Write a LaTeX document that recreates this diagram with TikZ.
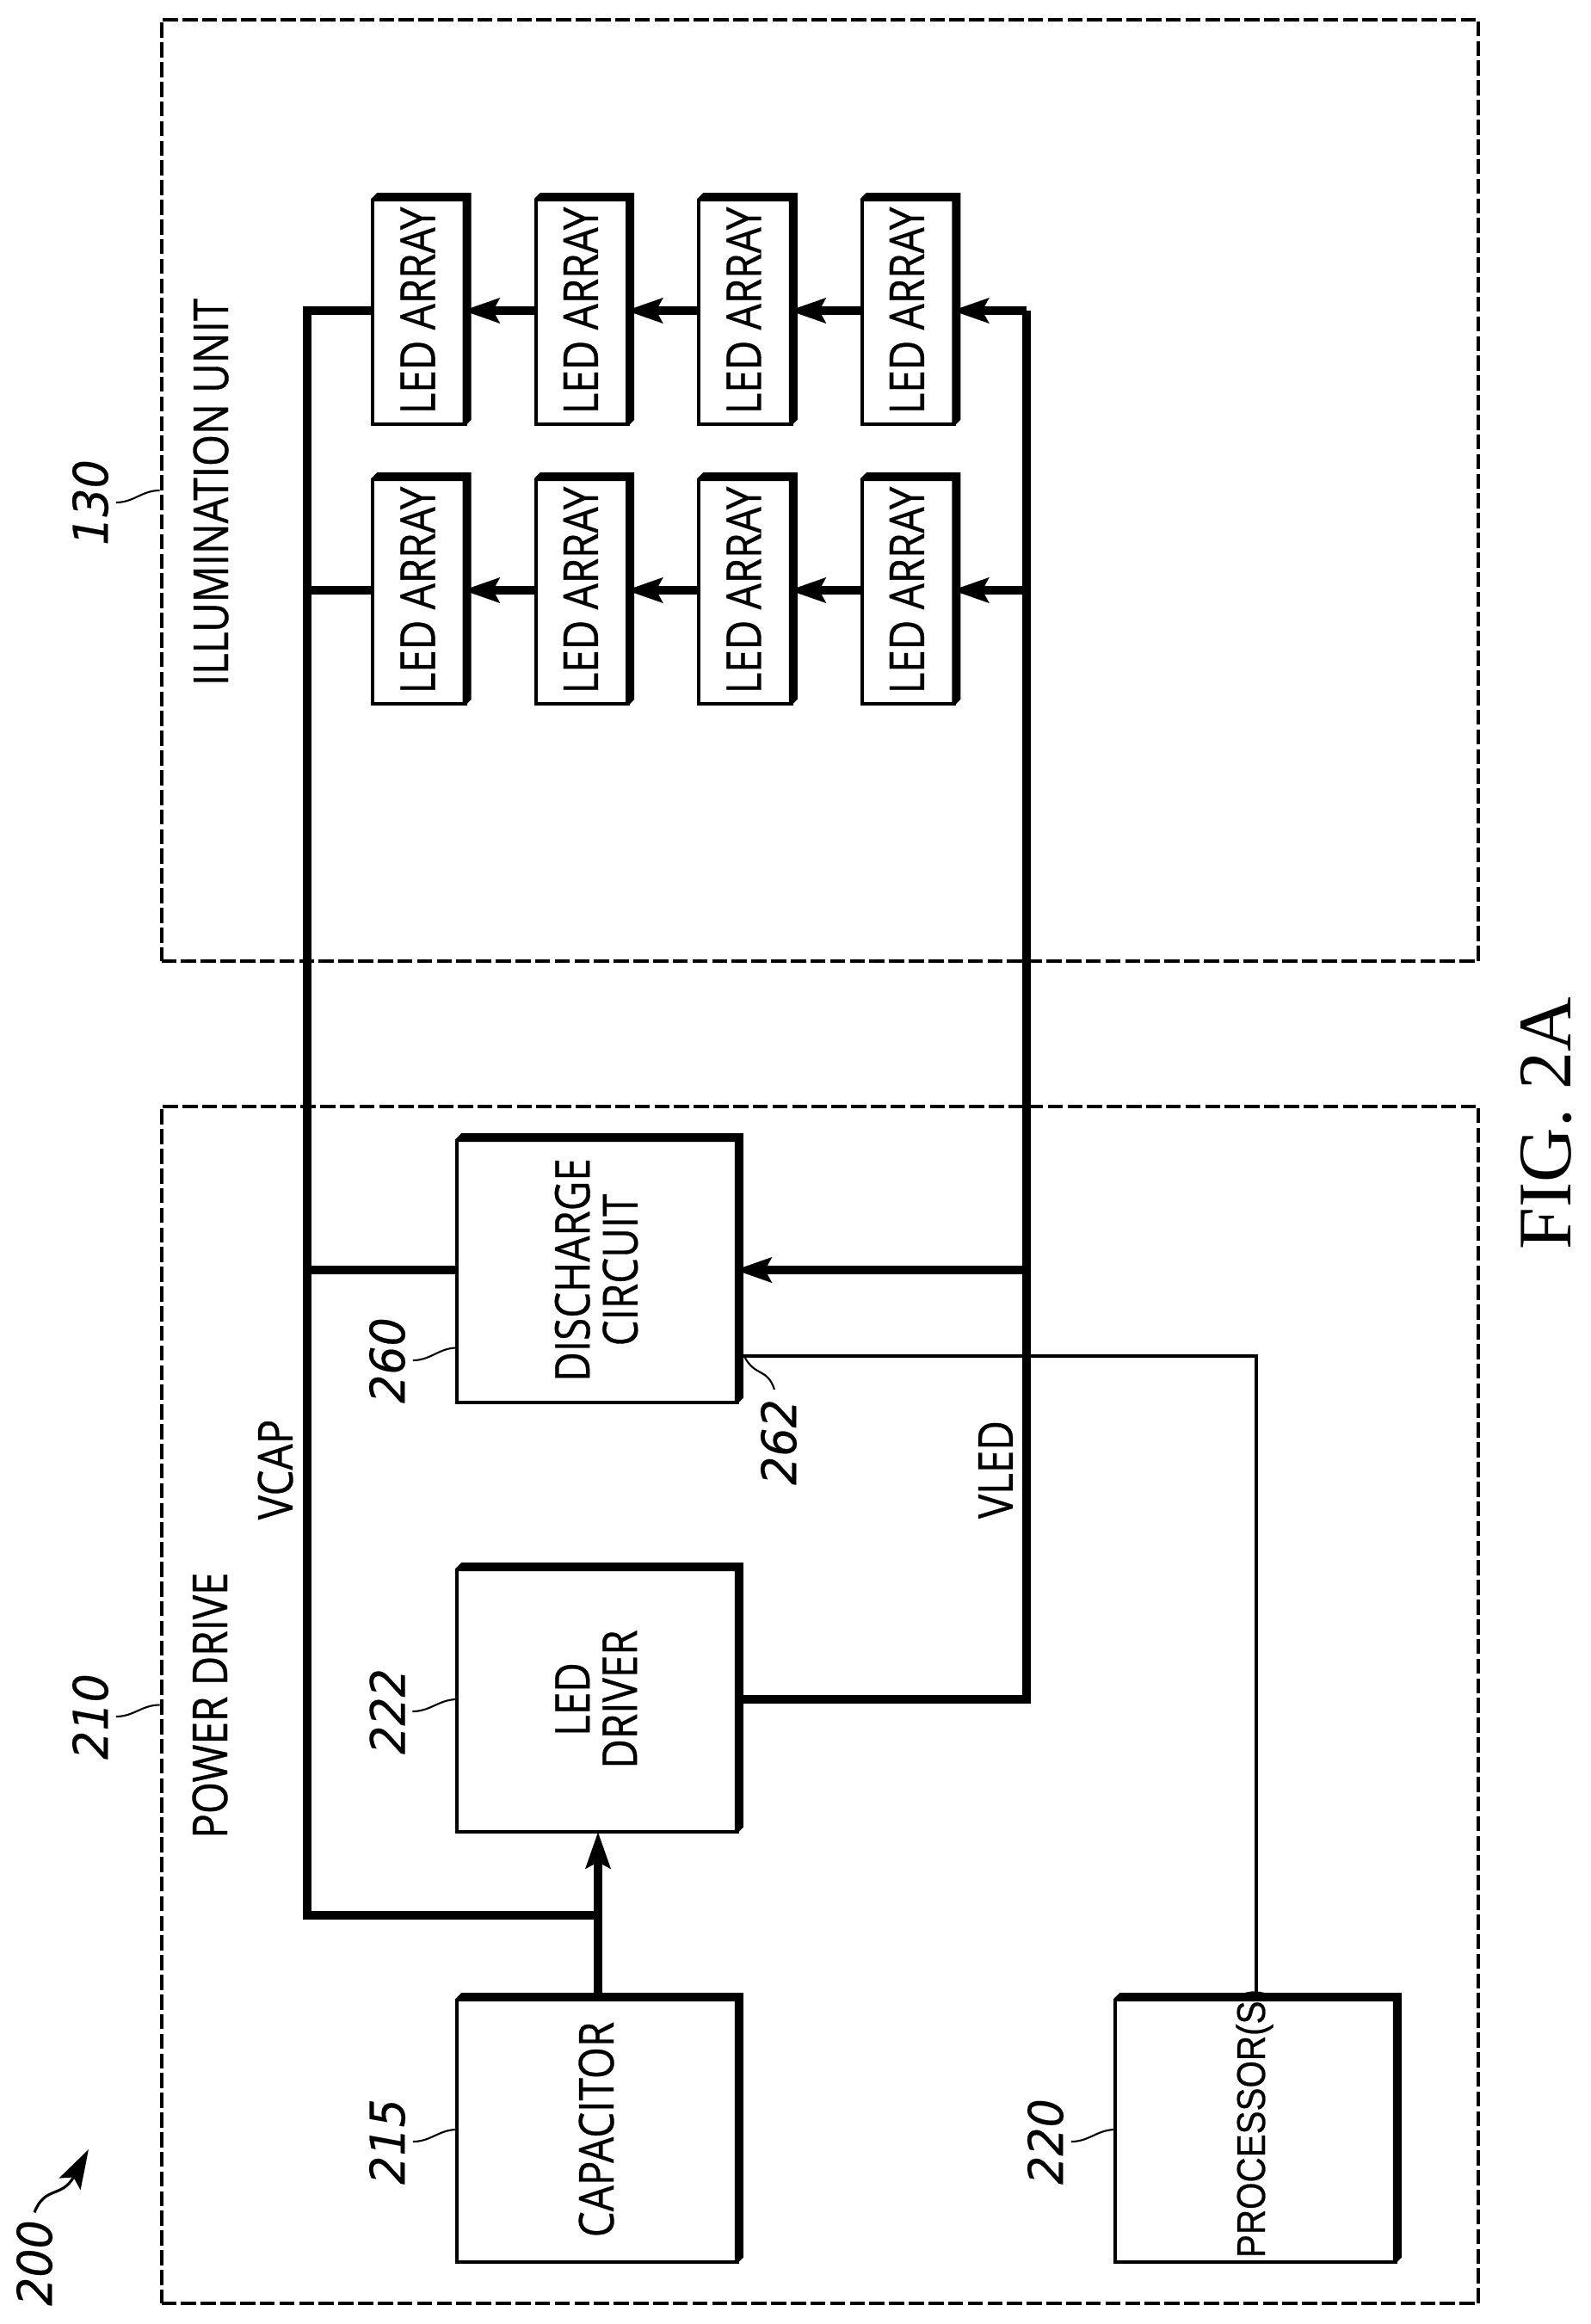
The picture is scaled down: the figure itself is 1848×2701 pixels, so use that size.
\documentclass[tikz,border=0pt]{standalone}
\usepackage{fontspec}
\setmainfont[FakeStretch=0.85,FakeBold=0.6]{Open Sans}
\newfontfamily\reffont[FakeStretch=0.94,FakeBold=0.3]{DejaVu Sans}
\newfontfamily\procfont[FakeStretch=0.87,FakeBold=0.5]{Liberation Sans}
\newfontfamily\figfont{Liberation Serif}
\usetikzlibrary{arrows.meta,calc}
\newcommand{\sidetext}[1]{\hspace*{3pt}\rotatebox{90}{\begin{tabular}{@{}c@{}}#1\end{tabular}}}
% thin sides and heavy sides of a block
\newcommand{\blockedge}[1]{%
    \draw [blo] ($(#1.north west)+(0,2)$) -- (#1.south west) -- (#1.south east);
    \fill ($(#1.north west)+(-2,2)$) -- ++(7,-7) -- ($(#1.north east)+(5,-5)$) -- ($(#1.south east)+(5,-5)$)
        -- ++(-7,7) -- ($(#1.south east)+(-5,2)$) -- ($(#1.north east)+(-5,5)$) -- ($(#1.north west)+(-2,5)$) -- cycle;
}
\tikzset{%
    blo/.style={line width = 1.15pt},
    sig/.style={line width = 0.9pt},
    lea/.style={line width = 0.6pt},
    pow/.style={line width = 2.85pt},
    poa/.style={line width = 2.85pt, -{Stealth[length=12pt,width=8pt,inset=2pt]}, shorten >=-1.42pt},
    dbx/.style={draw, line width = 1.15pt, dash pattern=on 5pt off 1.5pt, inner sep=0pt},
    ldb/.style={inner sep=0pt, minimum width=1.08cm, minimum height=2.62cm, font=\fontsize{15.9}{15}\selectfont},
    bbk/.style={inner sep=0pt, minimum width=3.26cm, minimum height=3.06cm, font=\fontsize{15.9}{14.3}\selectfont},
    ttl/.style={rotate=90, inner sep=0pt, font=\fontsize{15.9}{15}\selectfont},
    ref/.style={rotate=90, inner sep=2.3pt, font=\reffont\itshape\fontsize{15.8}{15}\selectfont},
}
\begin{document}
\begin{tikzpicture}[x=0.01cm,y=-0.01cm]
    \useasboundingbox (0,0) rectangle (1848,2701);
    % dashed regions
    \node [dbx,minimum width=15.3cm,minimum height=10.94cm] (illum) at (953,570) {};
    \node [dbx,minimum width=15.3cm,minimum height=13.91cm] (power) at (953,1981.5) {};
    \node [ttl] (illumtxt) at (245,572) {ILLUMINATION UNIT};
    \node [ttl] (powertxt) at (244,1982) {POWER DRIVE};
    % blocks
    \node [bbk] (cap) at (695,2475) {\sidetext{CAPACITOR}};
    \node [bbk] (drv) at (695,1975) {\sidetext{LED\\DRIVER}};
    \node [bbk] (dis) at (695,1476) {\sidetext{DISCHARGE\\CIRCUIT}};
    \node [bbk] (proc) at (1460,2475) {};
    \node [ttl,font=\procfont\fontsize{13.2}{14}\selectfont] (proctxt) at (1458,2468) {PROCESSOR(S)};
    \foreach \r/\y in {1/361,2/686}{
        \foreach \c/\x in {1/488,2/677.5,3/867,4/1056.5}{
            \node [ldb] (a\r\c) at (\x,\y) {\sidetext{LED ARRAY}};
            \blockedge{a\r\c}
        }
        \draw [poa] (a\r2.west) -- (a\r1.east);
        \draw [poa] (a\r3.west) -- (a\r2.east);
        \draw [poa] (a\r4.west) -- (a\r3.east);
    }
    \foreach \b in {cap,drv,dis,proc}{\blockedge{\b}}
    % supply rails
    \coordinate (vcapend) at (357,2226);
    \coordinate (vledtop) at (1193,361);
    \coordinate (disin) at ($(dis.south east)!0.175!(dis.north east)$);
    \draw [pow,line join=miter] (a11.west) -| (vcapend) -- (vcapend -| cap.north);
    \draw [pow] (a21.west) -- (a21.west -| vcapend);
    \draw [pow] (dis.west) -- (dis.west -| vcapend);
    \draw [pow,line join=miter] (drv.east) -| (vledtop);
    \draw [poa] (vledtop) -- (a14.east);
    \draw [poa] (a24.east -| vledtop) -- (a24.east);
    \draw [poa] (dis.east -| vledtop) -- (dis.east);
    \draw [poa,shorten >=0pt] (cap.north) -- (drv.south);
    \draw [sig] (proc.north) |- (disin);
    \node [ttl] (vcap) at (320,1708) {VCAP};
    \node [ttl] (vled) at (1157,1708) {VLED};
    % reference numerals
    \node [ref] (n130) at (105,584) {130};
    \node [ref] (n210) at (105,1995) {210};
    \node [ref] (n215) at (450,2489) {215};
    \node [ref] (n220) at (1215,2489) {220};
    \node [ref] (n222) at (450,1989) {222};
    \node [ref] (n260) at (450,1581) {260};
    \node [ref] (n262) at (905,1676) {262};
    \node [ref] (n200) at (40,2630) {200};
    \draw [lea] (n130.south) to[out=0,in=180] (illum.west);
    \draw [lea] (n210.south) to[out=0,in=180] (power.west);
    \draw [lea] (n215.south) to[out=0,in=180] (cap.west);
    \draw [lea] (n220.south) to[out=0,in=180] (proc.west);
    \draw [lea] (n222.south) to[out=0,in=180] (drv.west);
    \draw [lea] (n260.south) to[out=0,in=180] ($(dis.south west)!0.206!(dis.north west)$);
    \coordinate (leadend) at ($(disin)+(7,2)$);
    \draw [lea] (900,1615) .. controls (892,1590) and (878,1600) .. (leadend);
    \draw [line width=0.9pt,-{Stealth[length=13pt,width=8pt,inset=2.5pt]}] (n200.east) .. controls (52,2540) and (72,2555) .. (103,2498);
    \node [rotate=90,inner sep=0pt,font=\figfont\fontsize{25}{25}\selectfont] (figlabel) at (1797,1306) {FIG. 2A};
\end{tikzpicture}
\end{document}
